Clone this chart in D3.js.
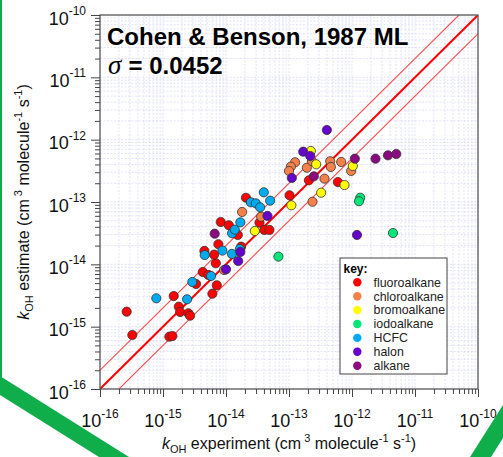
<!DOCTYPE html>
<html><head><meta charset="utf-8">
<script src="https://cdn.jsdelivr.net/npm/d3@7"></script>
<style>
html,body{margin:0;padding:0;background:#fff;}
svg{display:block;font-family:"Liberation Sans",Arial,sans-serif;}
</style></head>
<body>
<svg id="chart" width="503" height="457"></svg>
<script>
// ---- data ----
const categories = ["fluoroalkane","chloroalkane","bromoalkane","iodoalkane","HCFC","halon","alkane"];
const colors = ["#ff0000","#f5814a","#ffff00","#00e87a","#00aaee","#6600cc","#8b0a80"];

const fluoroalkane = [[2.65e-16,1.74e-15],[3.26e-16,7.35e-16],[1.48e-15,3.10e-15],[1.78e-15,2.09e-15],[1.87e-15,1.72e-15],
 [2.53e-15,1.64e-15],[2.69e-15,1.50e-15],[1.26e-15,6.90e-16],[1.41e-15,7.08e-16],[3.35e-15,4.84e-15],[4.28e-15,7.53e-15],
 [5.25e-15,6.75e-15],[7.14e-15,4.61e-15],[6.08e-15,3.38e-15],[6.89e-15,1.04e-14],[4.54e-15,1.64e-14],[6.47e-15,1.43e-14],
 [7.57e-15,2.10e-14],[1.74e-14,1.92e-14],[8.26e-15,4.78e-14],[1.11e-14,4.23e-14],[1.54e-14,2.96e-14],[2.07e-14,1.17e-13],
 [3.40e-14,4.66e-14],[4.07e-14,3.56e-14],[4.89e-14,3.56e-14],[1.02e-13,1.28e-13],[2.07e-13,2.23e-13],[5.97e-13,2.09e-13]];
const chloroalkane = [[1.80e-14,6.92e-14],[3.61e-14,5.81e-14],[1.25e-13,4.34e-13],[1.07e-13,3.69e-13],[1.00e-13,3.15e-13],
 [1.92e-13,3.55e-13],[2.31e-13,4.55e-13],[4.51e-13,4.50e-13],[4.62e-13,3.65e-13],[6.73e-13,4.39e-13],[9.70e-13,3.15e-13],
 [3.66e-13,2.37e-13],[2.36e-13,1.01e-13],[9.33e-15,8.11e-15]];
const bromoalkane = [[2.87e-14,3.43e-14],[1.09e-13,8.85e-14],[2.22e-13,6.58e-13],[2.70e-13,4.03e-13],[3.24e-13,1.41e-13],
 [7.60e-13,1.87e-13],[1.03e-12,3.78e-13]];
const iodoalkane = [[6.79e-14,1.33e-14],[1.35e-12,1.17e-13],[1.29e-12,1.03e-13],[4.47e-12,3.18e-14]];
const HCFC = [[7.83e-16,2.85e-15],[2.41e-15,2.75e-15],[2.92e-15,5.21e-15],[5.79e-15,6.50e-15],[4.60e-15,1.41e-14],
 [8.77e-15,1.66e-14],[1.24e-14,1.47e-14],[1.66e-14,1.76e-14],[1.25e-14,3.15e-14],[1.38e-14,3.60e-14],[1.69e-14,4.72e-14],
 [2.48e-14,9.89e-14],[2.97e-14,9.53e-14],[3.48e-14,8.22e-14],[3.98e-14,1.43e-13],[5.02e-14,1.05e-13]];
const halon = [[3.99e-13,1.43e-12],[1.68e-13,6.41e-13],[2.17e-13,5.47e-13],[1.11e-13,2.43e-13],[4.55e-14,5.97e-14],
 [1.69e-14,1.58e-14],[1.56e-14,1.13e-14],[1.00e-14,8.32e-15],[1.20e-12,2.96e-14]];
const alkane = [[6.61e-15,3.10e-14],[2.48e-13,2.58e-13],[1.11e-12,4.95e-13],[2.36e-12,4.95e-13],[3.72e-12,5.61e-13],[5.04e-12,5.89e-13]];

const seriesData = [fluoroalkane, chloroalkane, bromoalkane, iodoalkane, HCFC, halon, alkane];

const decades = [1e-16,1e-15,1e-14,1e-13,1e-12,1e-11,1e-10];
const tickExponents = ["-16","-15","-14","-13","-12","-11","-10"];
const lineFactors = [0.5, 2, 1];
const titleText = "Cohen & Benson, 1987 ML";
const sigmaValue = "= 0.0452";

// ---- layout ----
const svg = d3.select("#chart");
const L = 100, R = 478, T = 15, B = 389;
const x = d3.scaleLog().domain([1e-16,1e-10]).range([L,R]);
const y = d3.scaleLog().domain([1e-16,1e-10]).range([B,T]);

// green decorations
svg.append("rect").attr("x",0).attr("y",0).attr("width",2).attr("height",377).attr("fill","#0fae4b");
svg.append("polygon").attr("points","0,376 129,457 99,457 0,395").attr("fill","#0fae4b");
svg.append("polygon").attr("points","470,457 503,405 503,438 491,457").attr("fill","#0fae4b");

// minor values
const minors = [];
decades.slice(0,6).forEach(d => { for (let m=2;m<=9;m++) minors.push(m*d); });
const allGrid = decades.concat(minors);

const grid = svg.append("g");
grid.selectAll("line.gx").data(allGrid).join("line")
  .attr("x1",d=>x(d)).attr("x2",d=>x(d)).attr("y1",T).attr("y2",B)
  .attr("stroke","#d6d6f7").attr("stroke-width",0.7).attr("stroke-dasharray","2,1.5");
grid.selectAll("line.gy").data(allGrid).join("line")
  .attr("y1",d=>y(d)).attr("y2",d=>y(d)).attr("x1",L).attr("x2",R)
  .attr("stroke","#d6d6f7").attr("stroke-width",0.7).attr("stroke-dasharray","2,1.5");

// clip
svg.append("clipPath").attr("id","clip").append("rect")
  .attr("x",L).attr("y",T).attr("width",R-L).attr("height",B-T);

// diagonal lines
const lineGen = d3.line().x(d=>x(d[0])).y(d=>y(d[1]));
svg.append("g").attr("clip-path","url(#clip)").selectAll("path").data(lineFactors).join("path")
  .attr("d", f => lineGen([[1e-18, 1e-18*f],[1e-8, 1e-8*f]]))
  .attr("fill","none").attr("stroke", f => f===1 ? "#ff0000" : "#ff4848")
  .attr("stroke-width", f => f===1 ? 2 : 1.1);

// points
const pts = svg.append("g");
seriesData.forEach((arr,i) => {
  pts.append("g").selectAll("circle").data(arr).join("circle")
    .attr("cx",d=>x(d[0])).attr("cy",d=>y(d[1])).attr("r",4.6)
    .attr("fill",colors[i]).attr("stroke","#333").attr("stroke-width",0.8);
});

// frame
svg.append("rect").attr("x",L).attr("y",T).attr("width",R-L).attr("height",B-T)
  .attr("fill","none").attr("stroke","#5a5a5a").attr("stroke-width",1.3);

// axes
const axColor = "#444";
function styleAxis(g){ g.select(".domain").remove(); g.selectAll("line").attr("stroke",axColor).attr("stroke-width",1); g.selectAll("text").remove(); }
svg.append("g").attr("transform",`translate(0,${B})`).call(d3.axisBottom(x).tickValues(decades).tickSize(8).tickFormat("")).call(styleAxis);
svg.append("g").attr("transform",`translate(0,${B})`).call(d3.axisBottom(x).tickValues(minors).tickSize(5).tickFormat("")).call(styleAxis);
svg.append("g").attr("transform",`translate(${L},0)`).call(d3.axisLeft(y).tickValues(decades).tickSize(9).tickFormat("")).call(styleAxis);
svg.append("g").attr("transform",`translate(${L},0)`).call(d3.axisLeft(y).tickValues(minors).tickSize(5).tickFormat("")).call(styleAxis);

// tick labels
const xl = svg.append("g").attr("fill","#111");
decades.forEach((d,i) => {
  const t = xl.append("text").attr("x",x(d)).attr("y",427).attr("text-anchor","middle").attr("font-size",18);
  t.append("tspan").text("10");
  t.append("tspan").attr("dy",-9).attr("font-size",12).text(tickExponents[i]);
});
decades.forEach((d,i) => {
  const t = xl.append("text").attr("x",86).attr("y",y(d)+9.5).attr("text-anchor","end").attr("font-size",18);
  t.append("tspan").text("10");
  t.append("tspan").attr("dy",-9.5).attr("font-size",12).text(tickExponents[i]);
});

// axis titles
function unitTitle(t, word){
  t.append("tspan").attr("font-style","italic").text("k");
  t.append("tspan").attr("font-size",11).attr("dy",4).text("OH");
  t.append("tspan").attr("dy",-4).text(" " + word + " (cm");
  t.append("tspan").attr("font-size",11).attr("dy",-7).text(" 3");
  t.append("tspan").attr("dy",7).text(" molecule");
  t.append("tspan").attr("font-size",11).attr("dy",-7).text("-1");
  t.append("tspan").attr("dy",7).text(" s");
  t.append("tspan").attr("font-size",11).attr("dy",-7).text("-1");
  t.append("tspan").attr("dy",7).text(")");
}
unitTitle(svg.append("text").attr("x",(L+R)/2).attr("y",449).attr("text-anchor","middle").attr("font-size",16).attr("fill","#111"), "experiment");
unitTitle(svg.append("text").attr("transform",`translate(29,${(T+B)/2}) rotate(-90)`).attr("text-anchor","middle").attr("font-size",16).attr("fill","#111"), "estimate");

// title
svg.append("text").attr("x",107).attr("y",45).attr("font-size",24).attr("font-weight","bold").attr("fill","#000").text(titleText);
svg.append("text").attr("x",108).attr("y",74).attr("font-size",27).attr("font-style","italic")
  .attr("font-family","'Liberation Serif','Times New Roman',serif").attr("fill","#000").text("σ");
svg.append("text").attr("x",128.5).attr("y",74).attr("font-size",24).attr("font-weight","bold").attr("fill","#000").text(sigmaValue);

// legend
const lg = svg.append("g");
lg.append("rect").attr("x",340).attr("y",258).attr("width",107).attr("height",116)
  .attr("fill","#fff").attr("stroke","#444").attr("stroke-width",1);
lg.append("text").attr("x",343.5).attr("y",272.5).attr("font-size",12).attr("font-weight","bold").text("key:");
categories.forEach((c,i) => {
  const cy = 282.3 + i*13.9;
  lg.append("circle").attr("cx",357.3).attr("cy",cy).attr("r",4.2).attr("fill",colors[i]);
  lg.append("text").attr("x",373.5).attr("y",cy+4.3).attr("font-size",12.4).attr("fill","#222").text(c);
});
</script>
</body></html>
